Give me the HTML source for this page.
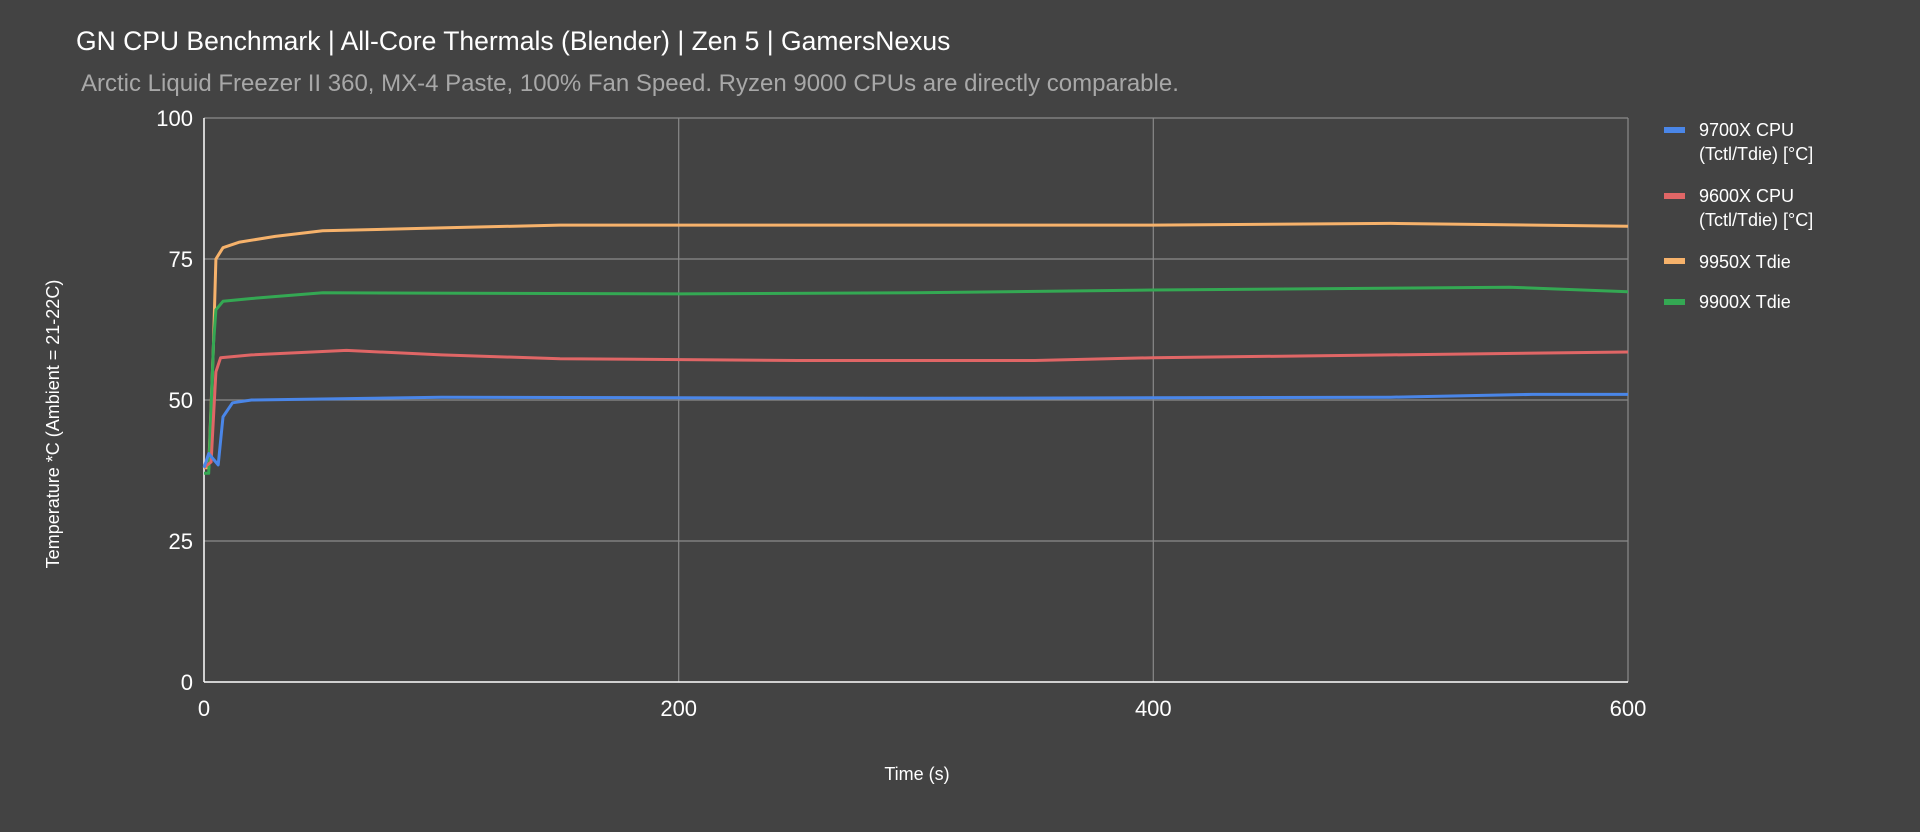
<!DOCTYPE html>
<html><head><style>
body{margin:0;background:#434343;}
svg{display:block;font-family:"Liberation Sans",Arial,sans-serif;}
</style></head><body>
<svg width="1920" height="832" viewBox="0 0 1920 832">
<rect width="1920" height="832" fill="#434343"/>
<text x="76" y="50" font-size="26.5" fill="#ffffff">GN CPU Benchmark | All-Core Thermals (Blender) | Zen 5 | GamersNexus</text>
<text x="81" y="91" font-size="24" fill="#a8a8a8">Arctic Liquid Freezer II 360, MX-4 Paste, 100% Fan Speed. Ryzen 9000 CPUs are directly comparable.</text>
<g stroke="#8a8a8a" stroke-width="1.2">
<line x1="204" y1="118" x2="1628" y2="118"/>
<line x1="204" y1="259" x2="1628" y2="259"/>
<line x1="204" y1="400" x2="1628" y2="400"/>
<line x1="204" y1="541" x2="1628" y2="541"/>
<line x1="678.7" y1="118" x2="678.7" y2="682"/>
<line x1="1153.3" y1="118" x2="1153.3" y2="682"/>
<line x1="1628" y1="118" x2="1628" y2="682"/>
</g>
<line x1="204" y1="118" x2="204" y2="682" stroke="#ffffff" stroke-width="1.5"/>
<line x1="204" y1="682" x2="1628" y2="682" stroke="#ffffff" stroke-width="1.5"/>
<g font-size="22" fill="#ffffff" text-anchor="end">
<text x="193" y="126">100</text>
<text x="193" y="267">75</text>
<text x="193" y="408">50</text>
<text x="193" y="549">25</text>
<text x="193" y="690">0</text>
</g>
<g font-size="22" fill="#ffffff" text-anchor="middle">
<text x="204" y="716">0</text>
<text x="678.7" y="716">200</text>
<text x="1153.3" y="716">400</text>
<text x="1628" y="716">600</text>
</g>
<text x="917" y="780" font-size="18" fill="#ffffff" text-anchor="middle">Time (s)</text>
<text transform="translate(59,424) rotate(-90)" font-size="18" fill="#ffffff" text-anchor="middle">Temperature *C (Ambient = 21-22C)</text>
<g fill="none" stroke-width="3" stroke-linejoin="round">
<polyline stroke="#f6b26b" points="204,467.7 208.7,467.7 213.5,343.6 215.9,259 223,247.7 239.6,242.1 275.2,236.4 322.7,230.8 441.4,227.9 560,225.1 678.7,225.1 916,225.1 1153.3,225.1 1390.7,223.4 1628,226.3"/>
<polyline stroke="#34a853" points="204,473.3 208.7,473.3 213.5,343.6 215.9,309.8 223,301.3 251.5,298.5 322.7,292.8 678.7,293.9 916,292.8 1153.3,290 1509.3,287.2 1628,291.7"/>
<polyline stroke="#e06666" points="204,467.7 211.1,462 215.9,371.8 220.6,357.7 251.5,354.9 346.4,350.4 441.4,354.9 560,358.7 797.3,360.5 1034.7,360.5 1153.3,357.7 1390.7,354.9 1628,352"/>
<polyline stroke="#4a86e8" points="204,467.7 208.7,453.6 218.2,464.9 223,416.9 232.5,402.8 251.5,400 441.4,397.2 916,398.3 1390.7,397.2 1532.2,394.4 1628,394.4"/>
</g>
<g font-size="18" fill="#ffffff">
<rect x="1664" y="127" width="21" height="6" fill="#4a86e8"/>
<text x="1699" y="136">9700X CPU</text>
<text x="1699" y="160">(Tctl/Tdie) [°C]</text>
<rect x="1664" y="193" width="21" height="6" fill="#e06666"/>
<text x="1699" y="202">9600X CPU</text>
<text x="1699" y="226">(Tctl/Tdie) [°C]</text>
<rect x="1664" y="258" width="21" height="6" fill="#f6b26b"/>
<text x="1699" y="268">9950X Tdie</text>
<rect x="1664" y="299" width="21" height="6" fill="#34a853"/>
<text x="1699" y="308">9900X Tdie</text>
</g>
</svg>
</body></html>
